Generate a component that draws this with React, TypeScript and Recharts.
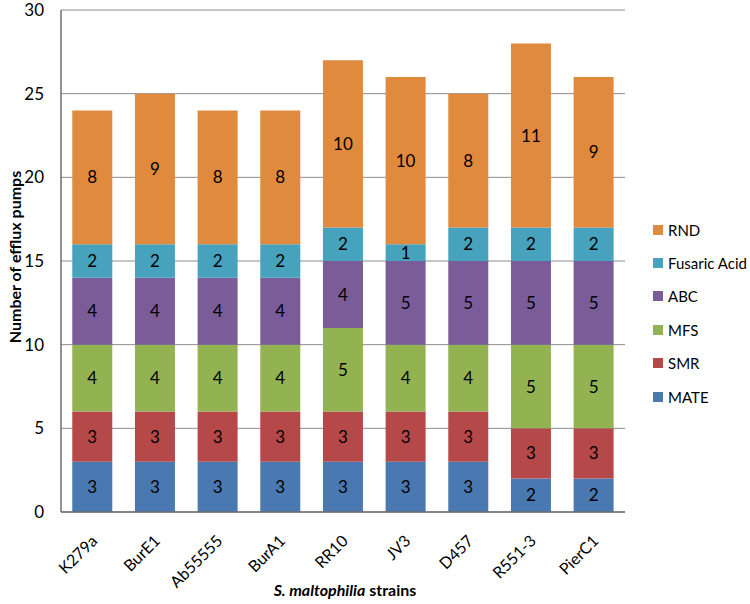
import { BarChart, Bar, XAxis, YAxis, CartesianGrid, LabelList, Label } from "recharts";

const strains = ["K279a", "BurE1", "Ab55555", "BurA1", "RR10", "JV3", "D457", "R551-3", "PierC1"];
const mate = [3, 3, 3, 3, 3, 3, 3, 2, 2];
const smr = [3, 3, 3, 3, 3, 3, 3, 3, 3];
const mfs = [4, 4, 4, 4, 5, 4, 4, 5, 5];
const abc = [4, 4, 4, 4, 4, 5, 5, 5, 5];
const fusaric = [2, 2, 2, 2, 2, 1, 2, 2, 2];
const rnd = [8, 9, 8, 8, 10, 10, 8, 11, 9];
const yTicks = [0, 5, 10, 15, 20, 25, 30];

const series = [
  { key: "MATE", color: "#4A78B0" },
  { key: "SMR", color: "#B5494A" },
  { key: "MFS", color: "#93B353" },
  { key: "ABC", color: "#7A5C99" },
  { key: "Fusaric Acid", color: "#47A2BD" },
  { key: "RND", color: "#E08A3E" },
];

const data = strains.map((name, i) => ({
  name,
  MATE: mate[i],
  SMR: smr[i],
  MFS: mfs[i],
  ABC: abc[i],
  "Fusaric Acid": fusaric[i],
  RND: rnd[i],
}));

const FONT = "Lato, 'Open Sans', sans-serif";

const XTick = (props: any) => {
  const { x, y, payload } = props;
  return (
    <text
      x={x + 6}
      y={y + 22}
      transform={`rotate(-45, ${x + 6}, ${y + 22})`}
      textAnchor="end"
      fontSize={16}
      fill="#000"
      fontFamily={FONT}
    >
      {payload.value}
    </text>
  );
};

export default function App() {
  return (
    <div style={{ position: "absolute", left: 0, top: 0, width: 750, height: 604, background: "#fff" }}>
      <BarChart
        width={750}
        height={604}
        data={data}
        margin={{ top: 10, right: 125, bottom: 0, left: 0 }}
        barCategoryGap="18%"
      >
        <CartesianGrid vertical={false} stroke="#8c8c8c" strokeWidth={1} />
        <XAxis
          dataKey="name"
          height={92}
          tick={<XTick />}
          tickLine={false}
          axisLine={{ stroke: "#6e6e6e", strokeWidth: 1.5 }}
          interval={0}
        >
          <Label
            content={() => (
              <text x={345} y={596} textAnchor="middle" fontSize={16} fontWeight="bold" fontFamily={FONT} fill="#000">
                <tspan fontStyle="italic">S. maltophilia</tspan> strains
              </text>
            )}
          />
        </XAxis>
        <YAxis
          width={61}
          domain={[0, 30]}
          ticks={yTicks}
          tickLine={false}
          tickSize={0}
          tickMargin={17}
          axisLine={{ stroke: "#6e6e6e", strokeWidth: 1.5 }}
          tick={{ fontSize: 17, fill: "#000", fontFamily: FONT }}
        >
          <Label
            content={() => (
              <text
                x={14}
                y={257}
                transform="rotate(-90, 14, 257)"
                textAnchor="middle"
                dominantBaseline="central"
                fontSize={16}
                fontWeight="bold"
                fontFamily={FONT}
                fill="#000"
              >
                Number of efflux pumps
              </text>
            )}
          />
        </YAxis>
        {series.map((s) => (
          <Bar key={s.key} dataKey={s.key} stackId="a" fill={s.color} isAnimationActive={false}>
            <LabelList dataKey={s.key} position="center" fill="#000" fontSize={17} fontFamily={FONT} />
          </Bar>
        ))}
      </BarChart>
      <div style={{ position: "absolute", left: 653, top: 213, fontFamily: FONT, fontSize: 15, color: "#000" }}>
        {[...series].reverse().map((s) => (
          <div key={s.key} style={{ display: "flex", alignItems: "center", height: 33.4 }}>
            <span style={{ width: 10, height: 10, background: s.color, marginRight: 5, display: "inline-block" }} />
            <span>{s.key}</span>
          </div>
        ))}
      </div>
    </div>
  );
}
